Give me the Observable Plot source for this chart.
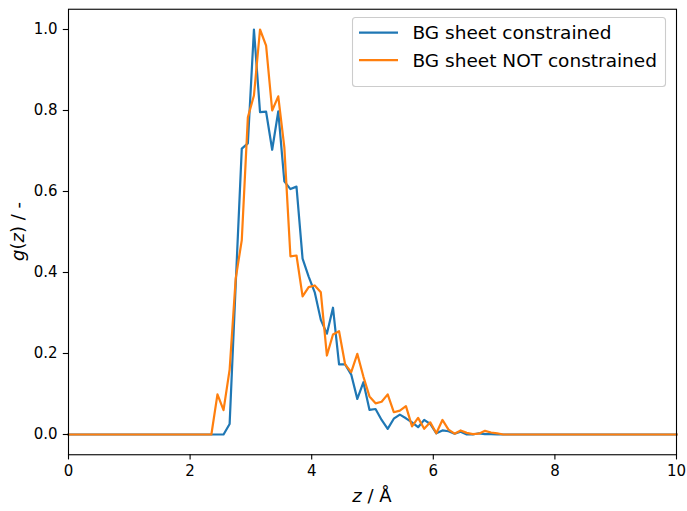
<!DOCTYPE html>
<html>
<head>
<meta charset="utf-8">
<script src="https://cdn.jsdelivr.net/npm/d3@7"></script>
<script src="https://cdn.jsdelivr.net/npm/@observablehq/plot@0.6"></script>
<style>
  html, body { margin: 0; padding: 0; background: #fff; }
  #chart { width: 687px; height: 511px; }
</style>
</head>
<body>
<div id="chart"></div>
<script>
// ---- data ----
const seriesNames = ["BG sheet constrained", "BG sheet NOT constrained"];
const seriesColors = ["#1f77b4", "#ff7f0e"];

const zConstrained = [0, 2.45, 2.55, 2.65, 2.75, 2.85, 2.95, 3.05, 3.15, 3.25, 3.35, 3.45, 3.55, 3.65, 3.75, 3.85, 3.95, 4.05, 4.15, 4.25, 4.35, 4.45, 4.55, 4.65, 4.75, 4.85, 4.95, 5.05, 5.15, 5.25, 5.35, 5.45, 5.55, 5.65, 5.75, 5.85, 5.95, 6.05, 6.15, 6.25, 6.35, 6.45, 6.55, 6.65, 6.75, 6.85, 6.95, 7.05, 10];
const gConstrained = [0, 0, 0, 0.026, 0.37, 0.706, 0.719, 1.0, 0.796, 0.797, 0.703, 0.798, 0.625, 0.606, 0.612, 0.434, 0.39, 0.351, 0.283, 0.249, 0.313, 0.173, 0.173, 0.148, 0.088, 0.129, 0.061, 0.063, 0.036, 0.014, 0.039, 0.049, 0.040, 0.030, 0.018, 0.036, 0.026, 0.003, 0.010, 0.008, 0.002, 0.007, 0, 0, 0.003, 0.001, 0.001, 0, 0];

const zNotConstrained = [0, 2.35, 2.45, 2.55, 2.65, 2.75, 2.85, 2.95, 3.05, 3.15, 3.25, 3.35, 3.45, 3.55, 3.65, 3.75, 3.85, 3.95, 4.05, 4.15, 4.25, 4.35, 4.45, 4.55, 4.65, 4.75, 4.85, 4.95, 5.05, 5.15, 5.25, 5.35, 5.45, 5.55, 5.65, 5.75, 5.85, 5.95, 6.05, 6.15, 6.25, 6.35, 6.45, 6.55, 6.65, 6.75, 6.85, 6.95, 7.05, 7.15, 10];
const gNotConstrained = [0, 0, 0.099, 0.060, 0.160, 0.385, 0.480, 0.783, 0.837, 1.0, 0.960, 0.800, 0.835, 0.709, 0.440, 0.442, 0.341, 0.364, 0.368, 0.351, 0.195, 0.247, 0.255, 0.173, 0.154, 0.199, 0.143, 0.094, 0.077, 0.081, 0.099, 0.055, 0.059, 0.070, 0.020, 0.041, 0.014, 0.030, 0.003, 0.036, 0.012, 0.002, 0.010, 0.004, 0.001, 0.002, 0.009, 0.005, 0.003, 0, 0];

const xTicks = [0, 2, 4, 6, 8, 10];
const yTicks = [0.0, 0.2, 0.4, 0.6, 0.8, 1.0];

// ---- build tables ----
const dataC = zConstrained.map((z, i) => ({z, g: gConstrained[i]}));
const dataN = zNotConstrained.map((z, i) => ({z, g: gNotConstrained[i]}));

const W = 687, H = 511;
const mL = 68, mR = 11, mT = 8.75, mB = 56.75;
const font = "DejaVu Sans, sans-serif";

const plot = Plot.plot({
  width: W,
  height: H,
  marginLeft: mL,
  marginRight: mR,
  marginTop: mT,
  marginBottom: mB,
  style: {fontFamily: font, fontSize: "15px", color: "#000", background: "#fff"},
  x: {domain: [0, 10]},
  y: {domain: [-0.05, 1.05]},
  marks: [
    Plot.line(dataC, {x: "z", y: "g", stroke: seriesColors[0], strokeWidth: 2.2, strokeLinejoin: "round", strokeLinecap: "square"}),
    Plot.line(dataN, {x: "z", y: "g", stroke: seriesColors[1], strokeWidth: 2.2, strokeLinejoin: "round", strokeLinecap: "square"}),
    Plot.frame({stroke: "#000", strokeWidth: 1.1}),
    Plot.axisX({ticks: xTicks, tickSize: 5.2, tickPadding: 5, tickFormat: d => String(d), label: null, strokeWidth: 1.1, fontSize: 15}),
    Plot.axisY({ticks: yTicks, tickSize: 5.2, tickPadding: 5.8, tickFormat: d => d.toFixed(1), label: null, strokeWidth: 1.1, fontSize: 15})
  ]
});

document.getElementById("chart").appendChild(plot);

// ---- axis labels and legend, added as real SVG text ----
const svg = d3.select(plot);

const xl = svg.append("text")
  .attr("x", (mL + (W - mR)) / 2)
  .attr("y", 502)
  .attr("text-anchor", "middle")
  .attr("font-family", font)
  .attr("font-size", "18px")
  .attr("fill", "#000");
xl.append("tspan").attr("font-style", "italic").text("z");
xl.append("tspan").text(" / Å");

const yl = svg.append("text")
  .attr("transform", `translate(24,${(mT + (H - mB)) / 2}) rotate(-90)`)
  .attr("text-anchor", "middle")
  .attr("font-family", font)
  .attr("font-size", "18px")
  .attr("fill", "#000");
yl.append("tspan").attr("font-style", "italic").text("g");
yl.append("tspan").text("(");
yl.append("tspan").attr("font-style", "italic").text("z");
yl.append("tspan").text(") / -");

const lg = svg.append("g");
lg.append("rect")
  .attr("x", 352.5).attr("y", 17.5)
  .attr("width", 313).attr("height", 69)
  .attr("rx", 3)
  .attr("fill", "#fff").attr("fill-opacity", 0.8)
  .attr("stroke", "#ccc").attr("stroke-width", 1.1);
seriesNames.forEach((name, i) => {
  const cy = 32.7 + i * 27.5;
  lg.append("line")
    .attr("x1", 359).attr("x2", 398)
    .attr("y1", cy).attr("y2", cy)
    .attr("stroke", seriesColors[i]).attr("stroke-width", 2.2);
  lg.append("text")
    .attr("x", 412.5).attr("y", cy)
    .attr("dy", "0.36em")
    .attr("text-anchor", "start")
    .attr("font-family", font)
    .attr("font-size", "18.5px")
    .attr("fill", "#000")
    .text(name);
});
</script>
</body>
</html>
